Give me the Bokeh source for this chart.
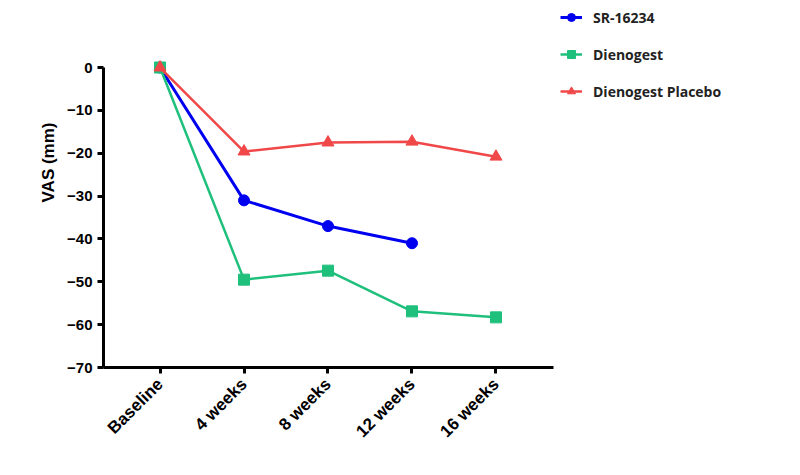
from bokeh.plotting import figure
from bokeh.models import FixedTicker, Legend, LegendItem, Range1d, Title
from bokeh.embed import file_html
from bokeh.resources import INLINE
import math

categories = ["Baseline", "4 weeks", "8 weeks", "12 weeks", "16 weeks"]
sr16234 = [0, -31, -37, -41]
dienogest = [0, -49.5, -47.4, -56.9, -58.3]
placebo = [0, -19.6, -17.5, -17.3, -20.8]
y_ticks = [0, -10, -20, -30, -40, -50, -60, -70]

xs = list(range(len(categories)))

BLUE = "#0000F0"
GREEN = "#1FBF7C"
RED = "#F04848"
FONT = "Liberation Sans"

p = figure(frame_width=450, frame_height=311, output_backend="svg", toolbar_location=None,
           x_range=Range1d(-0.673, 4.685), y_range=Range1d(-70, 2.57),
           min_border_left=103, min_border_top=56, min_border_right=10,
           min_border_bottom=92)
p.outline_line_color = None
p.grid.visible = False
p.background_fill_color = "white"

r1l = p.line(xs[:len(sr16234)], sr16234, line_color=BLUE, line_width=3)
r1m = p.scatter(xs[:len(sr16234)], sr16234, marker="circle", size=11,
                fill_color=BLUE, line_color=BLUE)
r2l = p.line(xs, dienogest, line_color=GREEN, line_width=2.5)
r2m = p.scatter(xs, dienogest, marker="square", size=11,
                fill_color=GREEN, line_color=GREEN)
r3l = p.line(xs, placebo, line_color=RED, line_width=2.5)
r3m = p.scatter(xs, placebo, marker="triangle", size=12,
                fill_color=RED, line_color=RED)

for ax in (p.xaxis[0], p.yaxis[0]):
    ax.axis_line_width = 3
    ax.axis_line_color = "black"
    ax.major_tick_line_width = 3
    ax.major_tick_out = 6
    ax.major_tick_in = 0
    ax.minor_tick_line_color = None
    ax.major_label_text_font = FONT
    ax.major_label_text_font_style = "bold"
    ax.major_label_text_color = "black"

p.yaxis.ticker = FixedTicker(ticks=y_ticks)
p.yaxis.bounds = (-70, 0)
p.yaxis.major_label_text_font_size = "15px"
p.yaxis.major_label_standoff = 5

ylab = Title(text="VAS (mm)", align="right", offset=66,
             text_font=FONT, text_font_style="bold", text_font_size="17px",
             text_color="black", standoff=13)
p.add_layout(ylab, "left")

p.xaxis.ticker = FixedTicker(ticks=xs)
p.xaxis.major_label_overrides = {i: c for i, c in enumerate(categories)}
p.xaxis.major_label_orientation = math.pi / 4
p.xaxis.major_label_text_font_size = "17px"
p.xaxis.major_label_standoff = 8

legend = Legend(items=[
    LegendItem(label="SR-16234", renderers=[r1l, r1m]),
    LegendItem(label="Dienogest", renderers=[r2l, r2m]),
    LegendItem(label="Dienogest Placebo", renderers=[r3l, r3m]),
], location=(7, 266))
legend.border_line_color = None
legend.background_fill_alpha = 0
legend.padding = 0
legend.margin = 0
legend.spacing = 17
legend.glyph_width = 22
legend.glyph_height = 20
legend.label_height = 20
legend.label_standoff = 11
legend.label_text_font = "Open Sans"
legend.label_text_font_style = "bold"
legend.label_text_font_size = "14px"
legend.label_text_color = "#222222"
p.add_layout(legend, "right")

open("out.html", "w").write(file_html(p, INLINE))
